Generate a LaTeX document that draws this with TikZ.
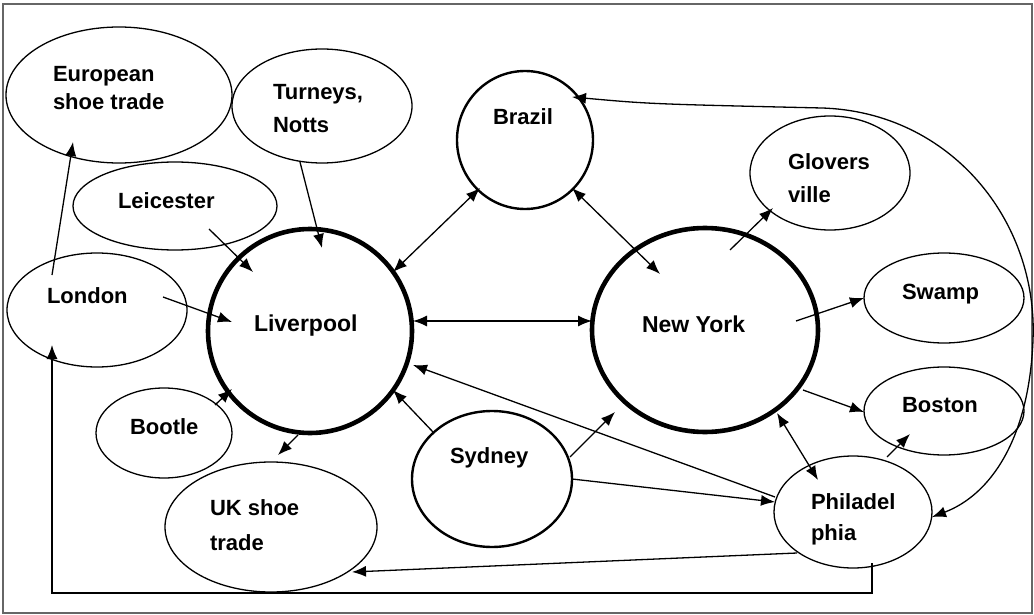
\documentclass[tikz,border=0pt]{standalone}
\usepackage{fontspec}
\setmainfont{Liberation Sans}
\usetikzlibrary{arrows.meta,shapes.geometric}
\begin{document}
\begin{tikzpicture}[x=1pt,y=-1pt,
  every node/.style={inner sep=0pt,outer sep=0pt},
  ell/.style n args={2}{ellipse,draw,line width=1.3pt,minimum width=#1pt,minimum height=#2pt},
  mid/.style={line width=2.4pt},
  heavy/.style={line width=4.6pt},
  txt/.style={anchor=base west,align=left,font=\fontsize{22}{31}\selectfont\bfseries},
  bigtxt/.style={anchor=base west,align=left,font=\fontsize{23}{31}\selectfont\bfseries},
  tip/.tip={Latex[length=14pt,width=11pt]},
  arr/.style={-tip,line width=1.3pt},
  darr/.style={tip-tip,line width=1.3pt},
  frame/.style={draw=black!60,line width=1.2pt}]
\useasboundingbox (0,0) rectangle (1034,615);
\draw[frame] (3,4) rectangle (1032,613);

% nodes
\node[ell={226}{136}] (eur) at (119,95) {};
\node[ell={180}{114}] (tur) at (322,106) {};
\node[ell={204}{88}] (lei) at (175,206) {};
\node[ell={180}{114}] (lon) at (97,310) {};
\node[ell={204}{204},heavy] (liv) at (310,331) {};
\node[ell={226}{204},heavy] (ny) at (705,330) {};
\node[ell={136}{138},mid] (bra) at (525,140) {};
\node[ell={160}{114}] (glo) at (830,173) {};
\node[ell={160}{90}] (swa) at (944,298) {};
\node[ell={160}{88}] (bos) at (944,411) {};
\node[ell={158}{112}] (phi) at (853,512) {};
\node[ell={160}{136},mid] (syd) at (492,479) {};
\node[ell={136}{90}] (boo) at (164,433) {};
\node[ell={212}{130}] (uk) at (271,527) {};

% labels (multi-line labels are placed by the baseline of their last line)
\node[txt] (eurT) at (53,110) {European\\[-3pt]shoe trade};
\node[txt] (turT) at (273,133) {Turneys,\\[2pt]Notts};
\node[txt] (leiT) at (118,208) {Leicester};
\node[txt] (lonT) at (47,303) {London};
\node[bigtxt] (livT) at (254,331) {Liverpool};
\node[bigtxt] (nyT) at (642,332) {New York};
\node[txt] (braT) at (493,125) {Brazil};
\node[txt] (gloT) at (788,203) {Glovers\\[2pt]ville};
\node[txt] (swaT) at (902,299) {Swamp};
\node[txt] (bosT) at (902,412) {Boston};
\node[txt] (phiT) at (811,540) {Philadel\\phia};
\node[txt] (sydT) at (450,463) {Sydney};
\node[txt] (booT) at (130,434) {Bootle};
\node[txt] (ukT) at (210,550) {UK shoe\\[4pt]trade};

% connectors
\draw[arr] ([shift={(-45,-35)}]lon.center) -- ([shift={(-46,47)}]eur.center);
\draw[arr] ([shift={(-22,56)}]tur.center) -- ([shift={(12,-83)}]liv.center);
\draw[arr] ([shift={(34,23)}]lei.center) -- ([shift={(-57,-59)}]liv.center);
\draw[arr] ([shift={(66,-13)}]lon.center) -- ([shift={(-78,-9)}]liv.center);
\draw[arr] ([shift={(51,-28)}]boo.center) -- ([shift={(-78,58)}]liv.center);
\draw[arr] ([shift={(-12,104)}]liv.center) -- ([shift={(7,-72)}]uk.center);
\draw[darr] ([shift={(103,-10)}]liv.center) -- ([shift={(-113,-9)}]ny.center);
\draw[darr] ([shift={(83,-59)}]liv.center) -- ([shift={(-45,48)}]bra.center);
\draw[darr] ([shift={(47,48)}]bra.center) -- ([shift={(-45,-56)}]ny.center);
\draw[arr] ([shift={(-59,-47)}]syd.center) -- ([shift={(83,59)}]liv.center);
\draw[arr] ([shift={(78,-22)}]syd.center) -- ([shift={(-90,82)}]ny.center);
\draw[arr] ([shift={(-78,-15)}]phi.center) -- ([shift={(103,34)}]liv.center);
\draw[arr] ([shift={(80,0)}]syd.center) -- ([shift={(-78,-10)}]phi.center);
\draw[arr] ([shift={(-56,41)}]phi.center) -- ([shift={(81,45)}]uk.center);
\draw[arr] ([shift={(19,51)}]phi.center) -- ++(0,30) -| ([shift={(-45,35)}]lon.center);
\draw[darr] ([shift={(72,83)}]ny.center) -- ([shift={(-35,-32)}]phi.center);
\draw[arr] ([shift={(98,60)}]ny.center) -- ([shift={(-80,1)}]bos.center);
\draw[arr] ([shift={(91,-9)}]ny.center) -- ([shift={(-80,0)}]swa.center);
\draw[arr] ([shift={(25,-80)}]ny.center) -- ([shift={(-57,35)}]glo.center);
\draw[arr] ([shift={(34,-55)}]phi.center) -- ([shift={(-34,23)}]bos.center);
\draw[darr] ([shift={(47,-43)}]bra.center) .. controls (650,104) .. (822,108)
  .. controls (950,112) and (1038,220) .. (1033,340)
  .. controls (1029,440) and (990,495) .. ([shift={(79,5)}]phi.center);
\end{tikzpicture}
\end{document}
